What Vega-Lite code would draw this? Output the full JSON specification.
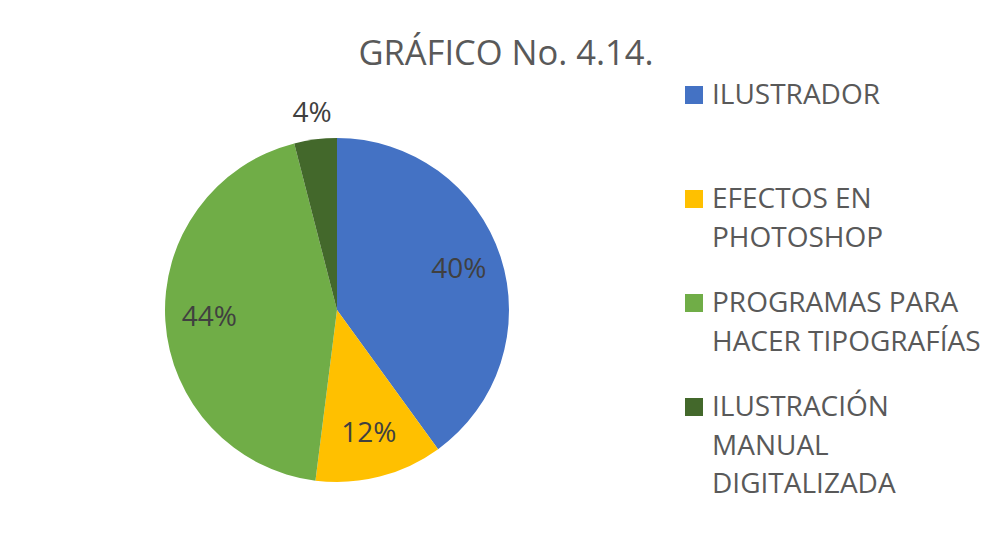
{
  "$schema": "https://vega.github.io/schema/vega-lite/v6.json",
  "width": 674,
  "height": 458,
  "padding": {"left": 0, "top": 36, "right": 0, "bottom": 0},
  "background": "white",
  "title": {
    "text": "GRÁFICO No. 4.14.",
    "font": "Open Sans",
    "fontSize": 34.5,
    "fontWeight": "normal",
    "color": "#595959",
    "anchor": "middle",
    "dx": 169,
    "offset": 9
  },
  "data": {
    "values": [
      {"categoria": "ILUSTRADOR", "valor": 0.40, "orden": 1},
      {"categoria": "EFECTOS EN PHOTOSHOP", "valor": 0.12, "orden": 2},
      {"categoria": "PROGRAMAS PARA HACER TIPOGRAFÍAS", "valor": 0.44, "orden": 3},
      {"categoria": "ILUSTRACIÓN MANUAL DIGITALIZADA", "valor": 0.04, "orden": 4}
    ]
  },
  "encoding": {
    "theta": {"field": "valor", "type": "quantitative", "stack": true},
    "order": {"field": "orden", "type": "quantitative"}
  },
  "layer": [
    {
      "mark": {"type": "arc", "radius": 172},
      "encoding": {
        "color": {
          "field": "categoria",
          "type": "nominal",
          "scale": {
            "domain": ["ILUSTRADOR", "EFECTOS EN PHOTOSHOP", "PROGRAMAS PARA HACER TIPOGRAFÍAS", "ILUSTRACIÓN MANUAL DIGITALIZADA"],
            "range": ["#4472C4", "#FFC000", "#70AD47", "#43682B"]
          },
          "legend": {
            "title": null,
            "orient": "right",
            "offset": 6,
            "symbolType": "square",
            "symbolSize": 324,
            "symbolStrokeWidth": 0,
            "symbolOpacity": 1,
            "labelFont": "Open Sans",
            "labelFontSize": 28,
            "labelColor": "#595959",
            "labelOffset": 4,
            "labelLimit": 0,
            "labelBaseline": "alphabetic",
            "rowPadding": 36,
            "labelExpr": "datum.label == 'ILUSTRADOR' ? ['ILUSTRADOR', ''] : datum.label == 'EFECTOS EN PHOTOSHOP' ? ['EFECTOS EN', 'PHOTOSHOP'] : datum.label == 'PROGRAMAS PARA HACER TIPOGRAFÍAS' ? ['PROGRAMAS PARA', 'HACER TIPOGRAFÍAS'] : ['ILUSTRACIÓN', 'MANUAL', 'DIGITALIZADA']",
            "encode": {
              "labels": {
                "update": {
                  "dy": {"value": 9},
                  "lineHeight": {"value": 38.5}
                }
              }
            }
          }
        }
      }
    },
    {
      "mark": {"type": "text", "radius": 128, "font": "Open Sans", "fontSize": 28},
      "encoding": {
        "detail": {"field": "categoria", "type": "nominal"},
        "color": {"value": "#404040"},
        "text": {"condition": {"test": "datum.valor > 0.05", "field": "valor", "type": "quantitative", "format": ".0%"}, "value": ""}
      }
    },
    {
      "mark": {"type": "text", "radius": 198, "font": "Open Sans", "fontSize": 28},
      "encoding": {
        "detail": {"field": "categoria", "type": "nominal"},
        "color": {"value": "#404040"},
        "text": {"condition": {"test": "datum.valor <= 0.05", "field": "valor", "type": "quantitative", "format": ".0%"}, "value": ""}
      }
    }
  ]
}
